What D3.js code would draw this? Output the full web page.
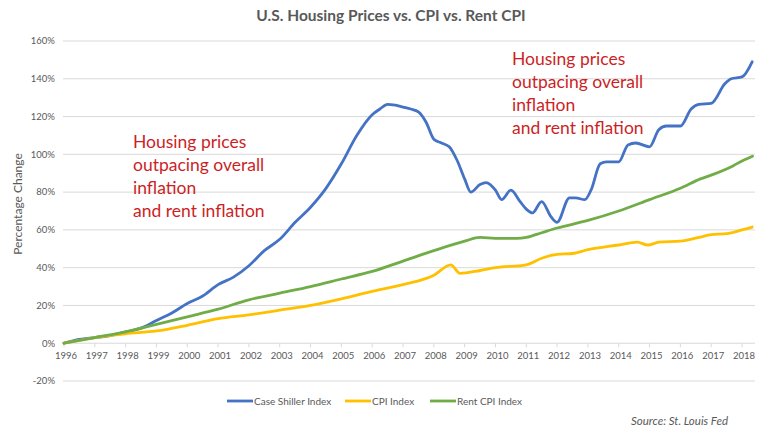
<!DOCTYPE html>
<html><head><meta charset="utf-8">
<script src="https://cdn.jsdelivr.net/npm/d3@7"></script>
<style>body{margin:0;background:#fff}svg{display:block}</style>
</head><body>
<svg id="chart" width="768" height="437"></svg>
<script>
// ---- data (percentage change since Jan 1996), [decimal year, %] ----
const caseShiller = [
 [1996.0,0],[1996.5,2],[1997.0,3],[1997.5,4],[1998.0,6],[1998.5,8],[1999.0,12],[1999.5,16],
 [2000.0,21],[2000.5,25],[2001.0,31],[2001.5,35],[2002.0,41],[2002.5,49],[2003.0,55],
 [2003.5,64],[2004.0,72],[2004.5,82],[2005.0,95],[2005.5,110],[2006.0,121],[2006.25,124],
 [2006.5,126.5],[2006.75,126],[2007.0,125],[2007.25,124],[2007.5,122.5],[2007.75,117],
 [2008.0,108],[2008.25,106],[2008.5,104],[2008.75,97],[2009.0,87],[2009.2,80],[2009.5,84],
 [2009.7,85],[2010.0,81],[2010.2,76],[2010.5,81],[2010.8,75],[2011.0,71],[2011.2,69],
 [2011.5,75],[2011.8,67],[2012.0,64],[2012.4,77],[2012.6,77],[2012.9,76],[2013.1,81],
 [2013.4,95],[2013.6,96],[2014.0,96],[2014.3,105],[2014.55,106],[2015.0,104],[2015.3,113],
 [2015.55,115],[2016.0,115],[2016.35,124],[2016.6,126.5],[2017.0,127],[2017.45,137.5],
 [2017.65,140],[2018.0,141],[2018.33,149]
];
const cpiIndex = [
 [1996.0,0],[1997.0,3],[1998.0,5],[1999.0,6.5],[2000.0,9.5],[2001.0,13],[2002.0,15],
 [2003.0,17.5],[2004.0,20],[2005.0,23.5],[2006.0,27.5],[2007.0,31],[2008.0,36],
 [2008.55,41.5],[2008.85,37],[2009.5,38.5],[2010.0,40],[2011.0,41.5],[2011.5,45],
 [2012.0,47],[2012.5,47.5],[2013.0,49.5],[2014.0,52],[2014.6,53.5],[2014.95,52],
 [2015.3,53.5],[2016.0,54],[2016.6,56],[2017.0,57.5],[2017.5,58],[2018.0,60],[2018.33,61.5]
];
const rentCpiIndex = [
 [1996.0,0],[1997.0,3],[1998.0,6],[1999.0,10],[2000.0,14],[2001.0,18],[2002.0,23],
 [2003.0,26.5],[2004.0,30],[2005.0,34],[2006.0,38],[2007.0,43.5],[2008.0,49],
 [2009.0,54],[2009.5,56],[2010.0,55.5],[2010.7,55.5],[2011.0,56],[2011.5,58.5],
 [2012.0,61],[2013.0,65],[2014.0,70],[2015.0,76],[2016.0,82],[2016.65,87],
 [2017.0,89],[2017.72,94],[2018.0,96.5],[2018.34,99]
];
const yTicks = [-20,0,20,40,60,80,100,120,140,160];
const xYears = d3.range(1996, 2019);
const seriesNames = ["Case Shiller Index","CPI Index","Rent CPI Index"];
const seriesColors = ["#4472c4","#ffc000","#70ad47"];
const seriesData = [caseShiller, cpiIndex, rentCpiIndex];
const notes = ["Housing prices","outpacing overall","inflation","and rent inflation"];

const svg = d3.select("#chart");
const font = "Lato, 'Open Sans', sans-serif";
const txt = "#595959";

const x = d3.scaleLinear().domain([1996, 2018]).range([64, 742]);
const y = d3.scaleLinear().domain([-20, 160]).range([381, 41]);
const plotL = 63, plotR = 755;

// title
svg.append("text").attr("x", 391).attr("y", 21).attr("text-anchor","middle")
  .attr("font-family", font).attr("font-weight","bold").attr("font-size",15.5)
  .attr("fill", txt).text("U.S. Housing Prices vs. CPI vs. Rent CPI");

// gridlines
svg.append("g").selectAll("line").data(yTicks).join("line")
  .attr("x1", plotL).attr("x2", plotR).attr("y1", d=>y(d)).attr("y2", d=>y(d))
  .attr("stroke","#d9d9d9").attr("stroke-width",1);

// y labels
svg.append("g").selectAll("text").data(yTicks).join("text")
  .attr("x", 55).attr("y", d=>y(d)).attr("dy","0.35em").attr("text-anchor","end")
  .attr("font-family", font).attr("font-size",9.5).attr("fill", txt).text(d=>d+"%");

// y title
svg.append("text").attr("transform","translate(22,204) rotate(-90)").attr("text-anchor","middle")
  .attr("font-family", font).attr("font-size",12).attr("fill", txt).text("Percentage Change");

// x axis ticks on 0 line
svg.append("g").selectAll("line").data(xYears).join("line")
  .attr("x1", d=>x(d)).attr("x2", d=>x(d)).attr("y1", y(0)).attr("y2", y(0)+4)
  .attr("stroke","#d9d9d9");
svg.append("g").selectAll("text").data(xYears).join("text")
  .attr("x", d=>x(d)+2).attr("y", y(0)+16).attr("text-anchor","middle")
  .attr("font-family", font).attr("font-size",9.5).attr("fill", txt).text(d=>d);

// lines
const line = d3.line().x(d=>x(d[0])).y(d=>y(d[1])).curve(d3.curveMonotoneX);
svg.append("g").selectAll("path").data(seriesData).join("path")
  .attr("d", line).attr("fill","none").attr("stroke",(d,i)=>seriesColors[i])
  .attr("stroke-width",2.8).attr("stroke-linejoin","round").attr("stroke-linecap","round");

// annotations
function note(x0, y0){
  svg.append("g").selectAll("text").data(notes).join("text")
    .attr("x", x0).attr("y",(d,i)=>y0+i*23)
    .attr("font-family", font).attr("font-size",17.5).attr("fill","#cc1f26").text(d=>d);
}
note(133,148);
note(512,65);

// legend
const legX = [227, 345, 430];
const lg = svg.append("g").selectAll("g").data(seriesNames).join("g")
  .attr("transform",(d,i)=>`translate(${legX[i]},401)`);
lg.append("line").attr("x1",0).attr("x2",26).attr("stroke",(d,i)=>seriesColors[i]).attr("stroke-width",2.8);
lg.append("text").attr("x",27).attr("dy","0.35em").attr("font-family",font).attr("font-size",10)
  .attr("fill",txt).text(d=>d);

// source
svg.append("text").attr("x",728).attr("y",425).attr("text-anchor","end")
  .attr("font-family",font).attr("font-style","italic").attr("font-size",11.5)
  .attr("fill",txt).text("Source: St. Louis Fed");
</script>
</body></html>
